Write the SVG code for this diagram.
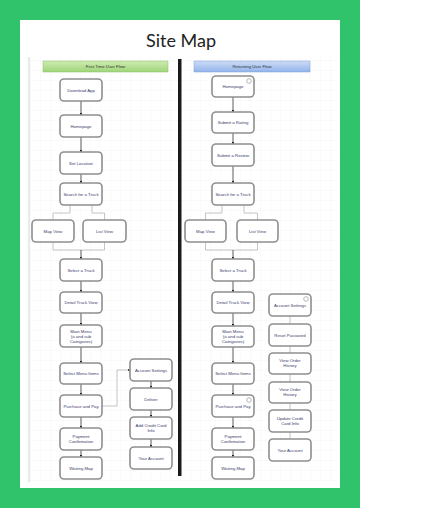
<svg xmlns="http://www.w3.org/2000/svg" width="423" height="514" viewBox="0 0 423 514">
<style>
.n rect.b{fill:#fff;stroke:#8e8e8e;stroke-width:1.6}
.n text{font-family:"Liberation Sans",Arial,sans-serif;font-size:4.3px;fill:#3a3a6a;text-anchor:middle}
.hd{font-family:"Liberation Sans",Arial,sans-serif;font-size:4.3px;fill:#333;text-anchor:middle}
.c{fill:none;stroke:#333;stroke-width:0.8}
.g{fill:none;stroke:#b5b5b5;stroke-width:0.8}
.ic{fill:#fff;stroke:#999;stroke-width:0.7}
</style>
<defs>
<marker id="ah" viewBox="0 0 6 6" refX="5.5" refY="3" markerWidth="3" markerHeight="3" orient="auto"><path d="M0,0 L6,3 L0,6 z" fill="#222"/></marker>
<pattern id="grid" width="10" height="10" patternUnits="userSpaceOnUse"><path d="M10,0 L0,0 0,10" fill="none" stroke="#ececec" stroke-width="0.5"/></pattern>
<linearGradient id="gg" x1="0" y1="0" x2="0" y2="1"><stop offset="0" stop-color="#cdebb0"/><stop offset="1" stop-color="#9fd57a"/></linearGradient>
<linearGradient id="bg" x1="0" y1="0" x2="0" y2="1"><stop offset="0" stop-color="#cddcf6"/><stop offset="1" stop-color="#92b4ea"/></linearGradient>
</defs>
<rect x="0" y="0" width="423" height="514" fill="#fff"/>
<rect x="0" y="0" width="360" height="508" fill="#30c36b"/>
<rect x="20" y="20" width="320" height="468" fill="#fff"/>
<text x="181" y="47" font-family="Lato,'Open Sans',sans-serif" font-size="18" fill="#222" text-anchor="middle">Site Map</text>
<rect x="29" y="57" width="308" height="425" fill="url(#grid)"/>
<line x1="29" y1="57" x2="29" y2="482" stroke="#d6d6d6" stroke-width="1"/>
<rect x="178" y="59" width="3.5" height="417" fill="#1a1a1a"/>
<g id="hdr-first"><rect x="43" y="61" width="125" height="11" fill="url(#gg)" stroke="#8cbf64" stroke-width="0.5"/><text class="hd" x="105.5" y="68">First Time User Flow</text></g>
<g id="hdr-return"><rect x="194" y="61" width="116" height="11" fill="url(#bg)" stroke="#7c9fd6" stroke-width="0.5"/><text class="hd" x="252" y="68">Returning User Flow</text></g>

<g id="connectors">
<line class="c" x1="81" y1="101" x2="81" y2="115" marker-end="url(#ah)"/>
<line class="c" x1="81" y1="137" x2="81" y2="152" marker-end="url(#ah)"/>
<line class="c" x1="81" y1="174" x2="81" y2="183" marker-end="url(#ah)"/>
<path class="g" d="M70,205 V213 H53 V220"/>
<path class="g" d="M92,205 V213 H104.5 V220"/>
<path class="g" d="M53,242 V250 H104.5 V242"/>
<line class="c" x1="81" y1="250" x2="81" y2="259" marker-end="url(#ah)"/>
<line class="c" x1="81" y1="281" x2="81" y2="292" marker-end="url(#ah)"/>
<line class="c" x1="81" y1="313" x2="81" y2="325" marker-end="url(#ah)"/>
<line class="c" x1="81" y1="347" x2="81" y2="363" marker-end="url(#ah)"/>
<line class="c" x1="81" y1="384" x2="81" y2="395" marker-end="url(#ah)"/>
<line class="c" x1="81" y1="417" x2="81" y2="428" marker-end="url(#ah)"/>
<line class="c" x1="81" y1="450" x2="81" y2="457" marker-end="url(#ah)"/>
<path class="g" d="M102,406 H117 V370 H130" marker-end="url(#ah)"/>
<line class="c" x1="151" y1="381" x2="151" y2="388" marker-end="url(#ah)"/>
<line class="c" x1="151" y1="410" x2="151" y2="417" marker-end="url(#ah)"/>
<line class="c" x1="151" y1="439" x2="151" y2="447" marker-end="url(#ah)"/>

<line class="c" x1="233" y1="97" x2="233" y2="112" marker-end="url(#ah)"/>
<line class="c" x1="233" y1="133" x2="233" y2="144" marker-end="url(#ah)"/>
<line class="c" x1="233" y1="166" x2="233" y2="183" marker-end="url(#ah)"/>
<path class="g" d="M222,205 V213 H205.5 V220"/>
<path class="g" d="M244,205 V213 H257.5 V220"/>
<path class="g" d="M205.5,242 V250 H257.5 V242"/>
<line class="c" x1="233" y1="250" x2="233" y2="259" marker-end="url(#ah)"/>
<line class="c" x1="233" y1="281" x2="233" y2="292" marker-end="url(#ah)"/>
<line class="c" x1="233" y1="313" x2="233" y2="326" marker-end="url(#ah)"/>
<line class="c" x1="233" y1="347" x2="233" y2="363" marker-end="url(#ah)"/>
<line class="c" x1="233" y1="384" x2="233" y2="395" marker-end="url(#ah)"/>
<line class="c" x1="233" y1="417" x2="233" y2="428" marker-end="url(#ah)"/>
<line class="c" x1="233" y1="450" x2="233" y2="457" marker-end="url(#ah)"/>
<line class="g" x1="290" y1="316" x2="290" y2="324"/>
<line class="g" x1="290" y1="346" x2="290" y2="353"/>
<line class="g" x1="290" y1="374" x2="290" y2="382"/>
<line class="g" x1="290" y1="403" x2="290" y2="410"/>
<line class="g" x1="290" y1="432" x2="290" y2="439"/>
</g>

<g id="l-download" class="n"><rect class="b" x="60" y="79" width="42" height="22" rx="4"/><text x="81" y="91.5">Download App</text></g>
<g id="l-homepage" class="n"><rect class="b" x="60" y="115" width="42" height="22" rx="4"/><text x="81" y="127.5">Homepage</text></g>
<g id="l-setloc" class="n"><rect class="b" x="60" y="152" width="42" height="22" rx="4"/><text x="81" y="164.5">Set Location</text></g>
<g id="l-search" class="n"><rect class="b" x="60" y="183" width="42" height="22" rx="4"/><text x="81" y="195.5">Search for a Truck</text></g>
<g id="l-map" class="n"><rect class="b" x="32" y="220" width="42" height="22" rx="4"/><text x="53" y="232.5">Map View</text></g>
<g id="l-list" class="n"><rect class="b" x="83" y="220" width="43" height="22" rx="4"/><text x="104.5" y="232.5">List View</text></g>
<g id="l-select" class="n"><rect class="b" x="60" y="259" width="42" height="22" rx="4"/><text x="81" y="271.5">Select a Truck</text></g>
<g id="l-detail" class="n"><rect class="b" x="60" y="292" width="42" height="21" rx="4"/><text x="81" y="304">Detail Truck View</text></g>
<g id="l-menu" class="n"><rect class="b" x="60" y="325" width="42" height="22" rx="4"/><text x="81" y="332.5">Main Menu</text><text x="81" y="337.5">(a and sub</text><text x="81" y="342.5">Categories)</text></g>
<g id="l-items" class="n"><rect class="b" x="60" y="363" width="42" height="21" rx="4"/><text x="81" y="375">Select Menu Items</text></g>
<g id="l-pay" class="n"><rect class="b" x="60" y="395" width="42" height="22" rx="4"/><text x="81" y="407.5">Purchase and Pay</text></g>
<g id="l-confirm" class="n"><rect class="b" x="60" y="428" width="42" height="22" rx="4"/><text x="81" y="438">Payment</text><text x="81" y="443">Confirmation</text></g>
<g id="l-wait" class="n"><rect class="b" x="60" y="457" width="42" height="22" rx="4"/><text x="81" y="469.5">Waiting Map</text></g>
<g id="l-account" class="n"><rect class="b" x="130" y="359" width="42" height="22" rx="4"/><text x="151" y="371.5">Account Settings</text></g>
<g id="l-deliver" class="n"><rect class="b" x="130" y="388" width="42" height="22" rx="4"/><text x="151" y="400.5">Deliver</text></g>
<g id="l-card" class="n"><rect class="b" x="130" y="417" width="42" height="22" rx="4"/><text x="151" y="427">Add Credit Card</text><text x="151" y="432">Info</text></g>
<g id="l-youracc" class="n"><rect class="b" x="130" y="447" width="42" height="22" rx="4"/><text x="151" y="459.5">Your Account</text></g>

<g id="r-homepage" class="n"><rect class="b" x="212" y="76" width="42" height="21" rx="4"/><circle class="ic" cx="249" cy="81" r="2.3"/><text x="233" y="88">Homepage</text></g>
<g id="r-rating" class="n"><rect class="b" x="212" y="112" width="42" height="21" rx="4"/><text x="233" y="124">Submit a Rating</text></g>
<g id="r-review" class="n"><rect class="b" x="212" y="144" width="42" height="22" rx="4"/><text x="233" y="156.5">Submit a Review</text></g>
<g id="r-search" class="n"><rect class="b" x="212" y="183" width="42" height="22" rx="4"/><text x="233" y="195.5">Search for a Truck</text></g>
<g id="r-map" class="n"><rect class="b" x="185" y="220" width="41" height="22" rx="4"/><text x="205.5" y="232.5">Map View</text></g>
<g id="r-list" class="n"><rect class="b" x="237" y="220" width="41" height="22" rx="4"/><text x="257.5" y="232.5">List View</text></g>
<g id="r-select" class="n"><rect class="b" x="212" y="259" width="42" height="22" rx="4"/><text x="233" y="271.5">Select a Truck</text></g>
<g id="r-detail" class="n"><rect class="b" x="212" y="292" width="42" height="21" rx="4"/><text x="233" y="304">Detail Truck View</text></g>
<g id="r-menu" class="n"><rect class="b" x="212" y="326" width="42" height="21" rx="4"/><text x="233" y="333">Main Menu</text><text x="233" y="338">(a and sub</text><text x="233" y="343">Categories)</text></g>
<g id="r-items" class="n"><rect class="b" x="212" y="363" width="42" height="21" rx="4"/><text x="233" y="375">Select Menu Items</text></g>
<g id="r-pay" class="n"><rect class="b" x="212" y="395" width="42" height="22" rx="4"/><circle class="ic" cx="249" cy="400" r="2.3"/><text x="233" y="407.5">Purchase and Pay</text></g>
<g id="r-confirm" class="n"><rect class="b" x="212" y="428" width="42" height="22" rx="4"/><text x="233" y="438">Payment</text><text x="233" y="443">Confirmation</text></g>
<g id="r-wait" class="n"><rect class="b" x="212" y="457" width="42" height="22" rx="4"/><text x="233" y="469.5">Waiting Map</text></g>
<g id="r-account" class="n"><rect class="b" x="269" y="294" width="42" height="22" rx="4"/><circle class="ic" cx="306" cy="299" r="2.3"/><text x="290" y="306.5">Account Settings</text></g>
<g id="r-reset" class="n"><rect class="b" x="269" y="324" width="42" height="22" rx="4"/><text x="290" y="336.5">Reset Password</text></g>
<g id="r-history1" class="n"><rect class="b" x="269" y="353" width="42" height="21" rx="4"/><text x="290" y="362">View Order</text><text x="290" y="367">History</text></g>
<g id="r-history2" class="n"><rect class="b" x="269" y="382" width="42" height="21" rx="4"/><text x="290" y="391">View Order</text><text x="290" y="396">History</text></g>
<g id="r-card" class="n"><rect class="b" x="269" y="410" width="42" height="22" rx="4"/><text x="290" y="419.5">Update Credit</text><text x="290" y="424.5">Card Info</text></g>
<g id="r-youracc" class="n"><rect class="b" x="269" y="439" width="42" height="22" rx="4"/><text x="290" y="451.5">Your Account</text></g>
</svg>
